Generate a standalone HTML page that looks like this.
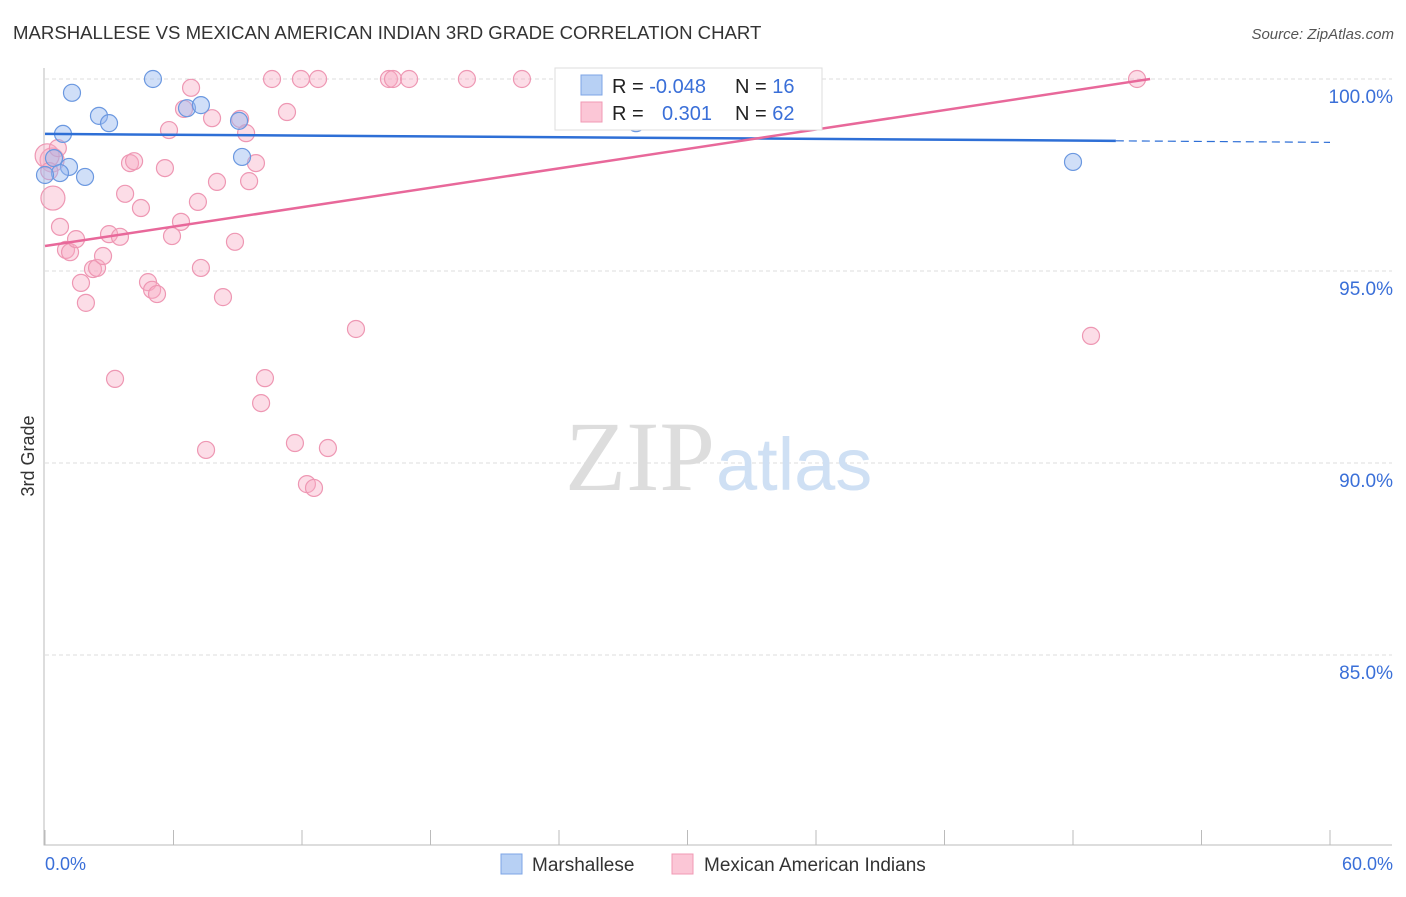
<!DOCTYPE html>
<html><head><meta charset="utf-8"><style>
body{margin:0;background:#fff;font-family:"Liberation Sans",sans-serif}
</style></head><body>
<svg width="1406" height="892" viewBox="0 0 1406 892" xmlns="http://www.w3.org/2000/svg">
<text x="13" y="39" font-size="18.6" fill="#333">MARSHALLESE VS MEXICAN AMERICAN INDIAN 3RD GRADE CORRELATION CHART</text>
<text x="1394" y="39" font-size="15" fill="#555" text-anchor="end" font-style="italic">Source: ZipAtlas.com</text>
<text x="34" y="456" font-size="18" fill="#333" text-anchor="middle" transform="rotate(-90 34 456)">3rd Grade</text>
<g id="grid"></g>
<text x="715" y="490" font-size="100" fill="#ddd" text-anchor="end" font-family="Liberation Serif,serif">ZIP</text>
<text x="716" y="490" font-size="74" fill="#cfe0f4">atlas</text>
<g id="pts"></g>
<g id="lines"></g>
<g>
<rect x="555" y="68" width="267" height="62" fill="#fff" stroke="#ddd"/>
<rect x="581" y="75" width="21" height="20" fill="#b7d0f4" stroke="#7ca4e6"/>
<rect x="581" y="102" width="21" height="20" fill="#fbc6d6" stroke="#f09ab4"/>
<text x="612" y="93" font-size="20" fill="#222">R = <tspan fill="#3a6fd8">-0.048</tspan></text>
<text x="735" y="93" font-size="20" fill="#222">N = <tspan fill="#3a6fd8"> 16</tspan></text>
<text x="612" y="120" font-size="20" fill="#222">R = <tspan fill="#3a6fd8" x="662">0.301</tspan></text>
<text x="735" y="120" font-size="20" fill="#222">N = <tspan fill="#3a6fd8">62</tspan></text>
</g>
<text x="45" y="870" font-size="18" fill="#3a6fd8">0.0%</text>
<text x="1393" y="870" font-size="18" fill="#3a6fd8" text-anchor="end">60.0%</text>
<rect x="501" y="854" width="21" height="20" fill="#b7d0f4" stroke="#7ca4e6"/>
<text x="532" y="871" font-size="19" fill="#333">Marshallese</text>
<rect x="672" y="854" width="21" height="20" fill="#fbc6d6" stroke="#f09ab4"/>
<text x="704" y="871" font-size="19" fill="#333">Mexican American Indians</text>
</svg>
<script>
const yTicks=[100,95,90,85];
const yTickLabels=["100.0%","95.0%","90.0%","85.0%"];
const blueX=[5.04,1.26,2.52,2.99,0.84,6.63,7.28,9.06,9.20,0.42,1.12,0.70,1.87,0,27.6,48.0];
const blueY=[100,99.64,99.04,98.85,98.57,99.24,99.32,98.91,97.97,97.94,97.71,97.55,97.45,97.5,98.85,97.84];
const pinkX=[0.33,0.37,0.70,0.98,1.17,1.45,1.68,1.91,2.24,2.43,2.71,2.99,3.27,3.50,3.74,3.97,4.16,4.48,4.81,5.00,5.23,5.60,5.79,5.93,6.35,6.49,6.82,7.14,7.28,7.52,7.80,8.03,8.31,8.87,9.11,9.39,9.53,9.85,10.09,10.27,10.60,11.30,11.67,11.95,12.23,12.56,12.75,13.21,14.52,16.06,16.25,17.0,19.70,22.27,26.24,28.72,32.92,48.84,50.99,0.1,0.2,0.6];
const pinkY=[97.89,96.90,96.15,95.55,95.49,95.83,94.69,94.17,95.05,95.08,95.39,95.96,92.19,95.89,97.01,97.81,97.86,96.64,94.71,94.51,94.40,97.68,98.67,95.91,96.28,99.22,99.77,96.80,95.08,90.34,98.98,97.32,94.32,95.76,98.96,98.59,97.34,97.81,91.56,92.21,100,99.14,90.52,100,89.45,89.35,100,90.39,93.49,100,100,100,100,100,100,100,100,93.31,100,98.0,97.6,98.2];
const blueTrend=[0,98.57,50,98.39,60,98.35];
const pinkTrend=[0,95.65,51.6,100];
const NS="http://www.w3.org/2000/svg";
const X=v=>45+v/60*1285, Y=v=>79+(100-v)*38.4;
function mk(t,a,p){const e=document.createElementNS(NS,t);for(const k in a)e.setAttribute(k,a[k]);p.appendChild(e);return e;}
const grid=document.getElementById('grid');
yTicks.forEach((t,i)=>{
 const l=mk('line',{x1:45,x2:1392,y1:Y(t),y2:Y(t),stroke:'#ddd','stroke-dasharray':'4 3'},grid);
 
 
 const tx=mk('text',{x:1393,y:Y(t)+24,'font-size':19,fill:'#3a6fd8','text-anchor':'end'},grid);
 tx.textContent=yTickLabels[i];
 
 
});
const ax=mk('path',{d:'M44 68V845H1392',fill:'none',stroke:'#bbb'},grid);


for(let i=0;i<=10;i++){const t=mk('line',{x1:X(i*6),x2:X(i*6),y1:830,y2:845,stroke:'#bbb'},grid);
 
 }
const pts=document.getElementById('pts');
pinkX.forEach((x,i)=>{const r=i<2||i==59?12:8.5;const c=mk('circle',{cx:X(x),cy:Y(pinkY[i]),r:r,fill:'rgba(248,170,195,0.4)',stroke:'#ee97b3','stroke-width':1.2},pts);
 
 });
blueX.forEach((x,i)=>{const c=mk('circle',{cx:X(x),cy:Y(blueY[i]),r:8.5,fill:'rgba(150,185,240,0.45)',stroke:'#6b98e0','stroke-width':1.2},pts);
 
 });
const ln=document.getElementById('lines');
const b1=mk('line',{x1:X(blueTrend[0]),y1:Y(blueTrend[1]),x2:X(blueTrend[2]),y2:Y(blueTrend[3]),stroke:'#2e6fd6','stroke-width':2.5},ln);


const b2=mk('line',{x1:X(blueTrend[2]),y1:Y(blueTrend[3]),x2:X(blueTrend[4]),y2:Y(blueTrend[5]),stroke:'#2e6fd6','stroke-width':1.2,'stroke-dasharray':'8 5'},ln);


const p1=mk('line',{x1:X(pinkTrend[0]),y1:Y(pinkTrend[1]),x2:X(pinkTrend[2]),y2:Y(pinkTrend[3]),stroke:'#e8689a','stroke-width':2.5},ln);


</script>
</body></html>
